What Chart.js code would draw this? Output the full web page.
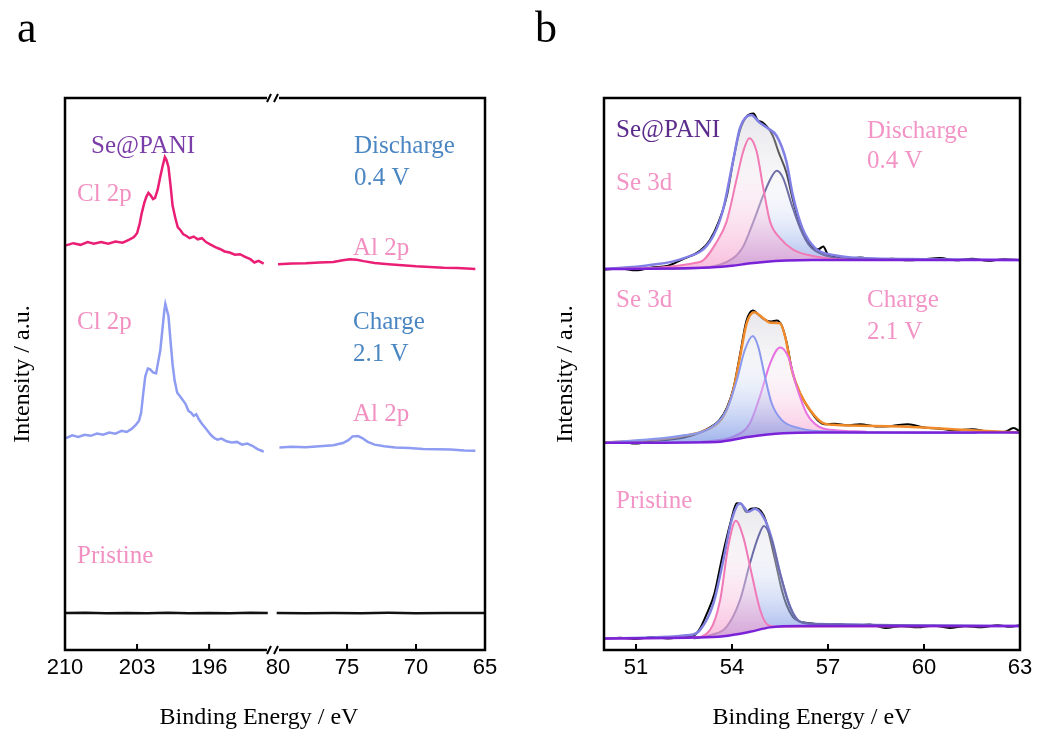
<!DOCTYPE html>
<html>
<head>
<meta charset="utf-8">
<script src="https://cdn.jsdelivr.net/npm/chart.js@4.4.1/dist/chart.umd.min.js"></script>
<style>
html, body { margin: 0; padding: 0; background: #fff; }
#wrap { position: relative; width: 1038px; height: 742px; }
#wrap canvas { position: absolute; left: 0; top: 0; }
</style>
</head>
<body>
<div id="wrap">
<canvas id="chartA" width="1038" height="742"></canvas>
<canvas id="chartB" width="1038" height="742"></canvas>
</div>
<script>
// ---- panel a: survey, Cl 2p (left) and Al 2p (right) with a broken axis ----
var ticksLeft = [210, 203, 196];
var ticksRight = [80, 75, 70, 65];

var dischargeLeft = [[209.9,73.3],[209.2,73.7],[208.5,73.4],[207.8,73.9],[207.2,73.6],[206.5,73.9],[205.8,73.6],[205.1,74.0],[204.4,73.8],[203.8,74.3],[203.3,74.8],[203.0,75.5],[202.75,77.2],[202.55,79.1],[202.3,81.0],[202.1,82.1],[201.9,82.8],[201.7,82.4],[201.45,81.7],[201.25,81.9],[201.0,83.4],[200.75,85.7],[200.5,87.8],[200.3,89.3],[200.15,88.8],[199.95,87.5],[199.75,84.2],[199.55,80.5],[199.3,78.4],[199.05,76.6],[198.8,76.1],[198.5,75.3],[198.2,75.0],[197.9,74.6],[197.5,74.9],[197.1,74.4],[196.7,74.6],[196.3,73.9],[195.9,73.5],[195.4,73.0],[194.9,72.6],[194.5,72.2],[194.0,72.0],[193.5,71.6],[193.0,71.7],[192.5,71.2],[192.0,70.8],[191.6,70.2],[191.2,70.5],[190.7,70.0]];
var dischargeRight = [[80.0,69.9],[79.0,70.0],[78.0,70.05],[77.0,70.2],[76.0,70.3],[75.3,70.6],[74.8,70.8],[74.3,70.7],[73.8,70.45],[73.0,70.1],[72.0,69.9],[71.0,69.7],[70.0,69.5],[69.0,69.4],[68.0,69.25],[67.0,69.2],[66.0,69.05],[65.7,69.0]];
var chargeLeft = [[209.9,38.4],[209.3,38.9],[208.7,38.6],[208.1,39.0],[207.5,38.8],[206.9,39.2],[206.3,39.0],[205.7,39.4],[205.1,39.2],[204.5,39.7],[204.0,39.5],[203.5,40.1],[203.1,40.8],[202.8,41.6],[202.6,43.0],[202.4,46.5],[202.2,49.6],[201.95,51.0],[201.75,50.9],[201.45,50.3],[201.15,50.1],[200.95,52.2],[200.75,54.2],[200.55,57.8],[200.35,61.5],[200.25,62.7],[200.1,61.6],[199.95,60.5],[199.75,56.0],[199.55,51.8],[199.35,48.8],[199.1,46.6],[198.85,46.0],[198.6,45.4],[198.3,44.6],[198.0,43.3],[197.75,43.0],[197.5,42.4],[197.25,42.7],[197.0,41.8],[196.7,41.0],[196.4,40.3],[196.1,39.6],[195.8,38.9],[195.5,38.4],[195.2,38.1],[194.8,38.3],[194.3,37.8],[193.8,37.6],[193.3,37.7],[192.8,37.2],[192.3,37.4],[191.8,37.0],[191.3,36.4],[190.9,36.1],[190.7,35.9]];
var chargeRight = [[79.9,36.7],[79.0,36.8],[78.0,36.75],[77.0,36.9],[76.0,37.1],[75.3,37.5],[74.9,38.0],[74.6,38.7],[74.2,38.75],[73.9,38.4],[73.5,37.7],[73.0,37.2],[72.3,36.9],[71.5,36.7],[70.5,36.6],[69.5,36.4],[68.5,36.35],[67.5,36.3],[66.5,36.15],[65.7,36.1]];
var pristineLeft = [[210,6.7],[208,6.75],[206,6.65],[204,6.72],[202,6.66],[200,6.74],[198,6.68],[196,6.72],[194,6.66],[192,6.73],[190.3,6.7]];
var pristineRight = [[80.1,6.7],[78,6.66],[76,6.72],[74,6.68],[72,6.73],[70,6.67],[68,6.72],[66,6.69],[65,6.7]];

// ---- panel b: Se 3d fits ----
var ticksB = [51, 54, 57, 60, 63];

var rawDis = [[50,68.9],[50.5,69.1],[51,68.8],[51.5,69.3],[52,69.6],[52.5,70.9],[53,72.3],[53.3,74.2],[53.6,77.8],[53.85,82.5],[54.05,89.0],[54.25,94.2],[54.45,96.6],[54.67,97.2],[54.8,96.0],[54.95,95.6],[55.08,94.9],[55.2,94.0],[55.3,92.8],[55.45,90.3],[55.7,86.5],[55.9,81.6],[56.1,77.4],[56.3,74.6],[56.5,73.0],[56.7,72.6],[56.85,73.1],[57.0,71.6],[57.2,71.2],[57.6,70.9],[58,71.1],[58.5,70.7],[59,70.9],[59.5,70.6],[60,70.8],[60.5,71.0],[61,70.6],[61.5,70.9],[62,70.5],[62.5,70.8],[63,70.6]];
var envDis = [[50,69.0],[51.4,69.7],[52.5,71.0],[53.3,73.9],[53.7,79.3],[54.03,88.5],[54.25,94.6],[54.6,96.9],[54.85,95.6],[55.1,94.6],[55.4,93.1],[55.7,88.5],[55.9,82.4],[56.2,76.4],[56.6,72.8],[57.2,71.5],[58,71.0],[60,70.8],[63,70.65]];
var c1Dis = [[50,69.0],[53.0,70.3],[53.52,73.9],[53.83,77.6],[54.15,85.45],[54.35,90.3],[54.54,92.7],[54.77,90.3],[54.98,83.6],[55.19,77.6],[55.5,74.6],[55.92,72.5],[56.65,71.25],[57.7,70.65],[63,70.65]];
var c2Dis = [[50,69.0],[53.0,69.2],[54.04,71.0],[54.35,73.1],[54.67,77.6],[54.98,82.4],[55.24,85.75],[55.4,86.8],[55.6,85.45],[55.87,80.6],[56.13,76.4],[56.44,73.1],[56.85,71.6],[57.7,70.8],[63,70.65]];
var bgDis = [[50,69.0],[52,69.1],[53.3,69.3],[54.0,69.6],[54.5,70.0],[55.0,70.3],[55.7,70.55],[56.5,70.65],[63,70.65]];

var rawChg = [[50,37.5],[50.5,37.7],[51,37.4],[51.5,37.9],[52,38.1],[52.5,38.5],[53,39.4],[53.3,40.3],[53.6,41.6],[53.85,44.0],[54.05,47.5],[54.25,53.5],[54.45,59.6],[54.65,61.5],[54.85,60.6],[55.0,59.9],[55.2,59.5],[55.4,59.7],[55.55,58.8],[55.7,55.9],[55.9,50.0],[56.1,46.8],[56.3,44.6],[56.5,42.9],[56.7,41.5],[56.9,40.9],[57.2,41.0],[57.6,40.7],[58,40.9],[58.5,40.5],[59,40.6],[59.5,40.9],[60,40.3],[60.5,40.1],[61,39.8],[61.5,40.0],[62,39.6],[62.5,39.5],[62.8,40.2],[63,39.6]];
var envChg = [[50,37.55],[52.38,38.65],[53.3,40.15],[53.73,42.3],[54.04,47.1],[54.25,53.1],[54.46,59.2],[54.69,61.2],[54.98,60.1],[55.19,59.3],[55.5,59.2],[55.66,56.8],[55.87,50.7],[56.13,46.5],[56.44,43.5],[56.85,41.1],[57.17,40.8],[59.25,40.5],[61.33,39.85],[63,39.4]];
var c1Chg = [[50,37.55],[52.48,38.9],[53.3,40.15],[53.83,43.5],[54.15,48.9],[54.4,54.35],[54.65,56.9],[54.82,54.95],[55.03,49.5],[55.24,44.7],[55.55,41.7],[56.13,40.15],[57.17,39.55],[61.65,39.3]];
var c2Chg = [[53.0,37.7],[54.04,38.65],[54.56,41.1],[54.87,45.9],[55.19,51.9],[55.5,54.8],[55.76,53.1],[56.02,47.7],[56.33,42.9],[56.7,40.5],[57.17,39.85],[58.2,39.55]];
var bgChg = [[50,37.55],[53.52,37.7],[54.56,38.65],[55.6,39.25],[56.65,39.4],[63,39.4]];

var rawPri = [[50,2.0],[50.5,2.2],[51,2.0],[51.5,2.3],[52,2.1],[52.5,2.4],[52.8,2.6],[53.0,3.9],[53.2,6.4],[53.45,10.2],[53.7,17.0],[53.95,23.0],[54.15,26.6],[54.3,26.4],[54.45,25.0],[54.6,25.6],[54.75,25.7],[54.9,25.2],[55.05,23.5],[55.2,20.0],[55.4,14.9],[55.55,11.0],[55.7,8.2],[55.9,6.0],[56.1,5.2],[56.4,4.9],[56.8,4.6],[57.3,4.7],[57.8,4.4],[58.3,4.6],[58.8,4.0],[59.3,4.3],[59.8,4.1],[60.3,4.4],[60.8,4.0],[61.3,4.3],[61.8,4.1],[62.3,4.5],[62.7,4.2],[63,4.5]];
var envPri = [[50,2.1],[52.69,2.7],[53.0,3.6],[53.42,8.45],[53.73,16.3],[53.99,23.55],[54.25,26.6],[54.51,25.05],[54.72,25.6],[55.03,23.6],[55.24,20.2],[55.5,13.9],[55.81,7.9],[56.13,5.1],[56.65,4.7],[63,4.35]];
var c1Pri = [[50,2.1],[52.8,2.25],[53.31,3.6],[53.63,9.05],[53.88,18.7],[54.12,23.4],[54.35,20.5],[54.61,13.9],[54.88,7.25],[55.13,4.5],[55.5,4.2],[63,4.35]];
var c2Pri = [[52.8,2.1],[53.31,2.7],[53.83,4.2],[54.25,9.05],[54.56,15.7],[54.82,20.5],[55.0,22.45],[55.24,19.9],[55.5,13.9],[55.81,7.85],[56.13,5.1],[56.65,4.7],[63,4.35]];
var bgPri = [[50,2.1],[52.8,2.25],[53.73,2.5],[54.56,3.3],[55.19,4.1],[56.13,4.35],[63,4.35]];

var pinkA = '#f190c1', blueA = '#4a86c2', pinkB = '#f294c6';
var labelsA = [
  ['Se@PANI', 91, 153, '#7b3ea8'], ['Cl 2p', 77, 201, pinkA],
  ['Discharge', 354, 153, blueA], ['0.4 V', 354, 185, blueA], ['Al 2p', 353, 255, pinkA],
  ['Cl 2p', 77, 329, pinkA], ['Charge', 353, 329, blueA], ['2.1 V', 353, 361, blueA],
  ['Al 2p', 353, 421, pinkA], ['Pristine', 77, 563, pinkA]
];
var labelsB = [
  ['Se@PANI', 616, 137, '#5b2b8c'], ['Se 3d', 616, 190, pinkB],
  ['Discharge', 867, 138, pinkB], ['0.4 V', 867, 168, pinkB],
  ['Se 3d', 616, 307, pinkB], ['Charge', 867, 307, pinkB], ['2.1 V', 867, 339, pinkB],
  ['Pristine', 616, 508, pinkB]
];

Chart.defaults.font.family = 'Liberation Serif';
var SERIF = 'Liberation Serif', SANS = 'Liberation Sans';

function pts(arr) {
  return arr.map(function (p) { return {x: p[0], y: p[1]}; });
}

function trace(data, axis, color) {
  return {data: pts(data), xAxisID: axis, yAxisID: 'y', borderColor: color,
    borderWidth: 2.5, pointRadius: 0, tension: 0, fill: false};
}

function bottomAxis(min, max, values, reverse, stack) {
  return {
    type: 'linear', position: 'bottom', stack: stack, stackWeight: 1,
    min: min, max: max, reverse: reverse,
    afterBuildTicks: function (s) {
      s.ticks = values.map(function (v) { return {value: v}; });
    },
    afterFit: function (s) { s.height = 92; },
    grid: {display: false, drawTicks: false},
    border: {display: false},
    ticks: {autoSkip: false, maxRotation: 0, padding: 5, color: '#000',
      font: {family: SANS, size: 22}}
  };
}

function sideAxis(width, pad) {
  return {
    type: 'linear', min: 0, max: 100,
    grid: {display: false, drawTicks: false},
    border: {display: false},
    ticks: {display: false},
    title: {display: true, text: 'Intensity / a.u.', color: '#000',
      font: {family: SERIF, size: 24}, padding: {top: pad, bottom: 0}},
    afterFit: function (s) { s.width = width; }
  };
}

function drawLabels(ctx, list) {
  ctx.font = '25px "' + SERIF + '"';
  ctx.textAlign = 'left';
  ctx.textBaseline = 'alphabetic';
  list.forEach(function (l) {
    ctx.fillStyle = l[3];
    ctx.fillText(l[0], l[1], l[2]);
  });
}

function drawTicksIn(ctx, scale, bottom, skip) {
  ctx.beginPath();
  scale.ticks.forEach(function (t) {
    var px = scale.getPixelForValue(t.value);
    if (px < scale.left + 4 || px > scale.right - 4 || (skip && Math.abs(px - skip) < 8)) return;
    ctx.moveTo(px, bottom);
    ctx.lineTo(px, bottom - 6);
  });
  ctx.lineWidth = 2;
  ctx.strokeStyle = '#000';
  ctx.stroke();
}

var frameA = {
  id: 'frameA',
  afterDraw: function (chart) {
    var ctx = chart.ctx, a = chart.chartArea;
    var brk = chart.scales.xr.left - 2;
    ctx.save();
    ctx.strokeStyle = '#000';
    ctx.lineWidth = 2.5;
    ctx.strokeRect(a.left, a.top, a.right - a.left, a.bottom - a.top);
    drawTicksIn(ctx, chart.scales.xl, a.bottom, brk);
    drawTicksIn(ctx, chart.scales.xr, a.bottom, brk);
    // axis break marks
    [a.top, a.bottom].forEach(function (y) {
      ctx.fillStyle = '#fff';
      ctx.fillRect(brk - 6, y - 3, 12, 6);
      ctx.beginPath();
      ctx.moveTo(brk - 6, y + 4); ctx.lineTo(brk - 2, y - 4);
      ctx.moveTo(brk + 1, y + 4); ctx.lineTo(brk + 5, y - 4);
      ctx.lineWidth = 2;
      ctx.strokeStyle = '#000';
      ctx.stroke();
    });
    drawLabels(ctx, labelsA);
    ctx.fillStyle = '#000';
    ctx.font = '24px "' + SERIF + '"';
    ctx.textAlign = 'center';
    ctx.textBaseline = 'middle';
    ctx.fillText('Binding Energy / eV', 259, 718);
    ctx.font = '44px "' + SERIF + '"';
    ctx.textAlign = 'left';
    ctx.textBaseline = 'alphabetic';
    ctx.fillText('a', 17, 42);
    ctx.restore();
  }
};

var chartA = new Chart(document.getElementById('chartA'), {
  type: 'line',
  data: {
    datasets: [
      trace(dischargeLeft, 'xl', '#e91e74'), trace(dischargeRight, 'xr', '#e91e74'),
      trace(chargeLeft, 'xl', '#8e9cf2'), trace(chargeRight, 'xr', '#8e9cf2'),
      trace(pristineLeft, 'xl', '#111'), trace(pristineRight, 'xr', '#111')
    ]
  },
  options: {
    responsive: false, animation: false, devicePixelRatio: 1,
    layout: {padding: {left: 0, top: 98, right: 553, bottom: 0}},
    plugins: {legend: {display: false}, tooltip: {enabled: false}},
    scales: {
      xl: bottomAxis(189.6, 210, ticksLeft, true, 'be'),
      xr: bottomAxis(65, 80.22, ticksRight, true, 'be'),
      y: sideAxis(65, 8)
    }
  },
  plugins: [frameA]
});

// ---- panel b ----
var PINK = [[0, 'rgba(255,255,255,0)'], [0.4, 'rgba(252,222,237,0.35)'], [1, 'rgba(244,155,203,0.65)']];
var BLUE = [[0, 'rgba(255,255,255,0)'], [0.45, 'rgba(214,224,248,0.4)'], [1, 'rgba(110,140,225,0.65)']];
var GREY = [[0, 'rgba(212,212,220,0.55)'], [1, 'rgba(255,255,255,0)']];

function shade(arr, bg, stops) {
  var top = Math.max.apply(null, arr.map(function (p) { return p[1]; }));
  var base = Math.min.apply(null, bg.map(function (p) { return p[1]; }));
  return function (c) {
    var chart = c.chart;
    if (!chart.chartArea) return 'rgba(0,0,0,0)';
    var ys = chart.scales.y;
    var g = chart.ctx.createLinearGradient(0, ys.getPixelForValue(top), 0, ys.getPixelForValue(base));
    stops.forEach(function (s) { g.addColorStop(s[0], s[1]); });
    return g;
  };
}

var datasetsB = [];
function spectrum(raw, env, c1, c2, bg, envColor, c1Color, c2Color, c1Fill, c2Fill) {
  var bgIndex = datasetsB.length;
  datasetsB.push({data: pts(bg), borderColor: '#7a22d8', borderWidth: 2.5, order: 1});
  datasetsB.push({data: pts(c1), borderColor: c1Color, borderWidth: 2, order: 2,
    fill: {target: bgIndex}, backgroundColor: shade(c1, bg, c1Fill)});
  datasetsB.push({data: pts(c2), borderColor: c2Color, borderWidth: 2, order: 3,
    fill: {target: bgIndex}, backgroundColor: shade(c2, bg, c2Fill)});
  datasetsB.push({data: pts(env), borderColor: envColor, borderWidth: 2.5, order: 4,
    fill: {target: bgIndex}, backgroundColor: shade(env, bg, GREY)});
  datasetsB.push({data: pts(raw), borderColor: '#000', borderWidth: 2, order: 5, tension: 0});
}

spectrum(rawDis, envDis, c1Dis, c2Dis, bgDis, '#7f7fe6', '#f27ab5', '#6f6fa8', PINK, BLUE);
spectrum(rawChg, envChg, c1Chg, c2Chg, bgChg, '#f08a2a', '#8a98ee', '#e870e0', BLUE, PINK);
spectrum(rawPri, envPri, c1Pri, c2Pri, bgPri, '#8080e0', '#f07ab8', '#6c6ca8', PINK, BLUE);

var frameB = {
  id: 'frameB',
  afterDraw: function (chart) {
    var ctx = chart.ctx, a = chart.chartArea;
    ctx.save();
    ctx.strokeStyle = '#000';
    ctx.lineWidth = 2.5;
    ctx.strokeRect(a.left, a.top, a.right - a.left, a.bottom - a.top);
    drawTicksIn(ctx, chart.scales.x, a.bottom, null);
    drawLabels(ctx, labelsB);
    ctx.fillStyle = '#000';
    ctx.font = '44px "' + SERIF + '"';
    ctx.fillText('b', 535, 42);
    ctx.restore();
  }
};

var xB = bottomAxis(50, 63, ticksB, false, undefined);
xB.title = {display: true, text: 'Binding Energy / eV', color: '#000',
  font: {family: SERIF, size: 24}, padding: {top: 0, bottom: 10}};

var chartB = new Chart(document.getElementById('chartB'), {
  type: 'line',
  data: {datasets: datasetsB},
  options: {
    responsive: false, animation: false, devicePixelRatio: 1,
    layout: {padding: {left: 540, top: 98, right: 18, bottom: 0}},
    elements: {point: {radius: 0}, line: {cubicInterpolationMode: 'monotone'}},
    plugins: {legend: {display: false}, tooltip: {enabled: false}},
    scales: {x: xB, y: sideAxis(64, 11)}
  },
  plugins: [frameB]
});
</script>
</body>
</html>
